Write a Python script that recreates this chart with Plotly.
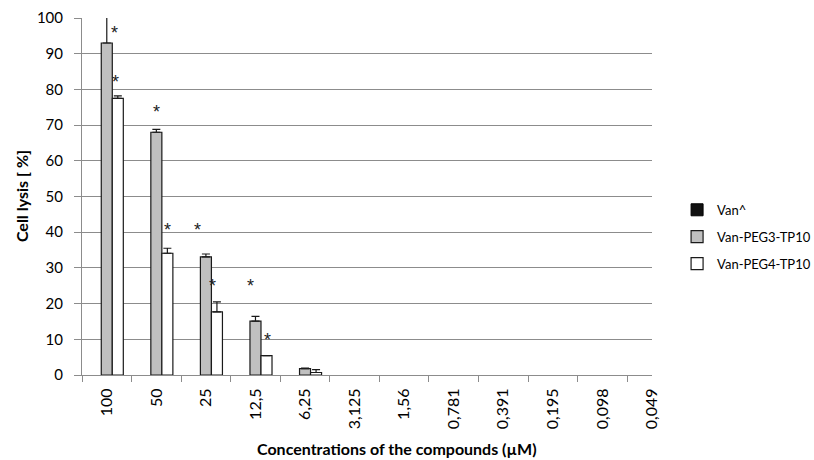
import plotly.graph_objects as go

categories = ["100", "50", "25", "12,5", "6,25", "3,125", "1,56", "0,781", "0,391", "0,195", "0,098", "0,049"]
van = [0, 0, 0, 0, 0, 0, 0, 0, 0, 0, 0, 0]
peg3 = [93.0, 68.0, 33.1, 15.1, 1.8, 0, 0, 0, 0, 0, 0, 0]
peg3_err = [10.0, 0.8, 0.8, 1.3, 0.1, 0, 0, 0, 0, 0, 0, 0]
peg4 = [77.5, 34.1, 17.7, 5.4, 0.7, 0, 0, 0, 0, 0, 0, 0]
peg4_err = [0.7, 1.4, 2.8, 0.0, 0.8, 0, 0, 0, 0, 0, 0, 0]

# significance stars: category, y value, horizontal pixel offset from category centre
star_cat = ["100", "100", "50", "50", "25", "25", "12,5", "12,5"]
star_y = [96.4, 82.6, 74.2, 41.2, 41.2, 25.5, 25.5, 10.3]
star_dx = [8, 9, 0, 11, -8, 7, -5, 12]

FONT = "Lato"
GRID = "#8c8c8c"


def nz(vals):
    # zero-height bars are left empty (nothing drawn), as in the reference
    return [v if v else None for v in vals]


fig = go.Figure()
fig.add_trace(go.Bar(name="Van^", x=categories, y=nz(van),
                     marker=dict(color="#111111", line=dict(color="#000000", width=1)),
                     legendgroup="a"))
fig.add_trace(go.Bar(name="Van-PEG3-TP10", x=categories, y=nz(peg3),
                     marker=dict(color="#c0c0c0", line=dict(color="#1a1a1a", width=1.2)),
                     error_y=dict(type="data", array=peg3_err, arrayminus=[0] * len(peg3_err), symmetric=False,
                                  color="#1a1a1a", thickness=1.2, width=4),
                     legendgroup="b"))
fig.add_trace(go.Bar(name="Van-PEG4-TP10", x=categories, y=nz(peg4),
                     marker=dict(color="#ffffff", line=dict(color="#1a1a1a", width=1.2)),
                     error_y=dict(type="data", array=peg4_err, arrayminus=[0] * len(peg4_err), symmetric=False,
                                  color="#1a1a1a", thickness=1.2, width=4),
                     legendgroup="c"))

for c, yv, dx in zip(star_cat, star_y, star_dx):
    fig.add_annotation(x=categories.index(c), y=yv, xref="x", yref="y", text="*", showarrow=False,
                       xshift=dx, yshift=-2,
                       font=dict(family="Liberation Sans", size=18, color="#222222"))

fig.add_annotation(text="<b>Concentrations of the compounds (µM)</b>", x=0.553, y=-0.205, xref="paper", yref="paper",
                   showarrow=False, xanchor="center", yanchor="middle", font=dict(family=FONT, size=16, color="#000"))
fig.add_annotation(text="<b>Cell lysis [ %]</b>", x=-0.106, y=0.5, xref="paper", yref="paper", textangle=-90,
                   showarrow=False, xanchor="center", yanchor="middle", font=dict(family=FONT, size=16, color="#000"))

fig.update_layout(
    width=814, height=460,
    margin=dict(l=82, r=162, t=18, b=85, autoexpand=False),
    paper_bgcolor="white", plot_bgcolor="white",
    barmode="group", bargap=0.333, bargroupgap=0,
    font=dict(family=FONT, size=14, color="#000"),
    legend=dict(x=1.044, y=0.387, xanchor="left", yanchor="middle", font=dict(family=FONT, size=13, color="#000"),
                tracegroupgap=7, traceorder="grouped", bgcolor="rgba(0,0,0,0)", borderwidth=0),
    xaxis=dict(type="category", range=[-0.5, 11], tickangle=-90, showgrid=False, showline=True, linecolor=GRID,
               linewidth=1, ticks="outside", tickson="boundaries", ticklen=6, tickcolor=GRID, ticklabelstandoff=6,
               tickfont=dict(family=FONT, size=16, color="#000"), zeroline=False, automargin=False),
    yaxis=dict(range=[0, 100], dtick=10, showgrid=True, gridcolor=GRID, gridwidth=1, showline=True, linecolor=GRID,
               ticks="outside", ticklen=7, tickcolor=GRID, ticklabelstandoff=8, zeroline=False, automargin=False,
               tickfont=dict(family=FONT, size=15, color="#000")),
)

fig.write_html("out.html", config={"displayModeBar": False},
               post_script="document.body.style.margin='0px';")
